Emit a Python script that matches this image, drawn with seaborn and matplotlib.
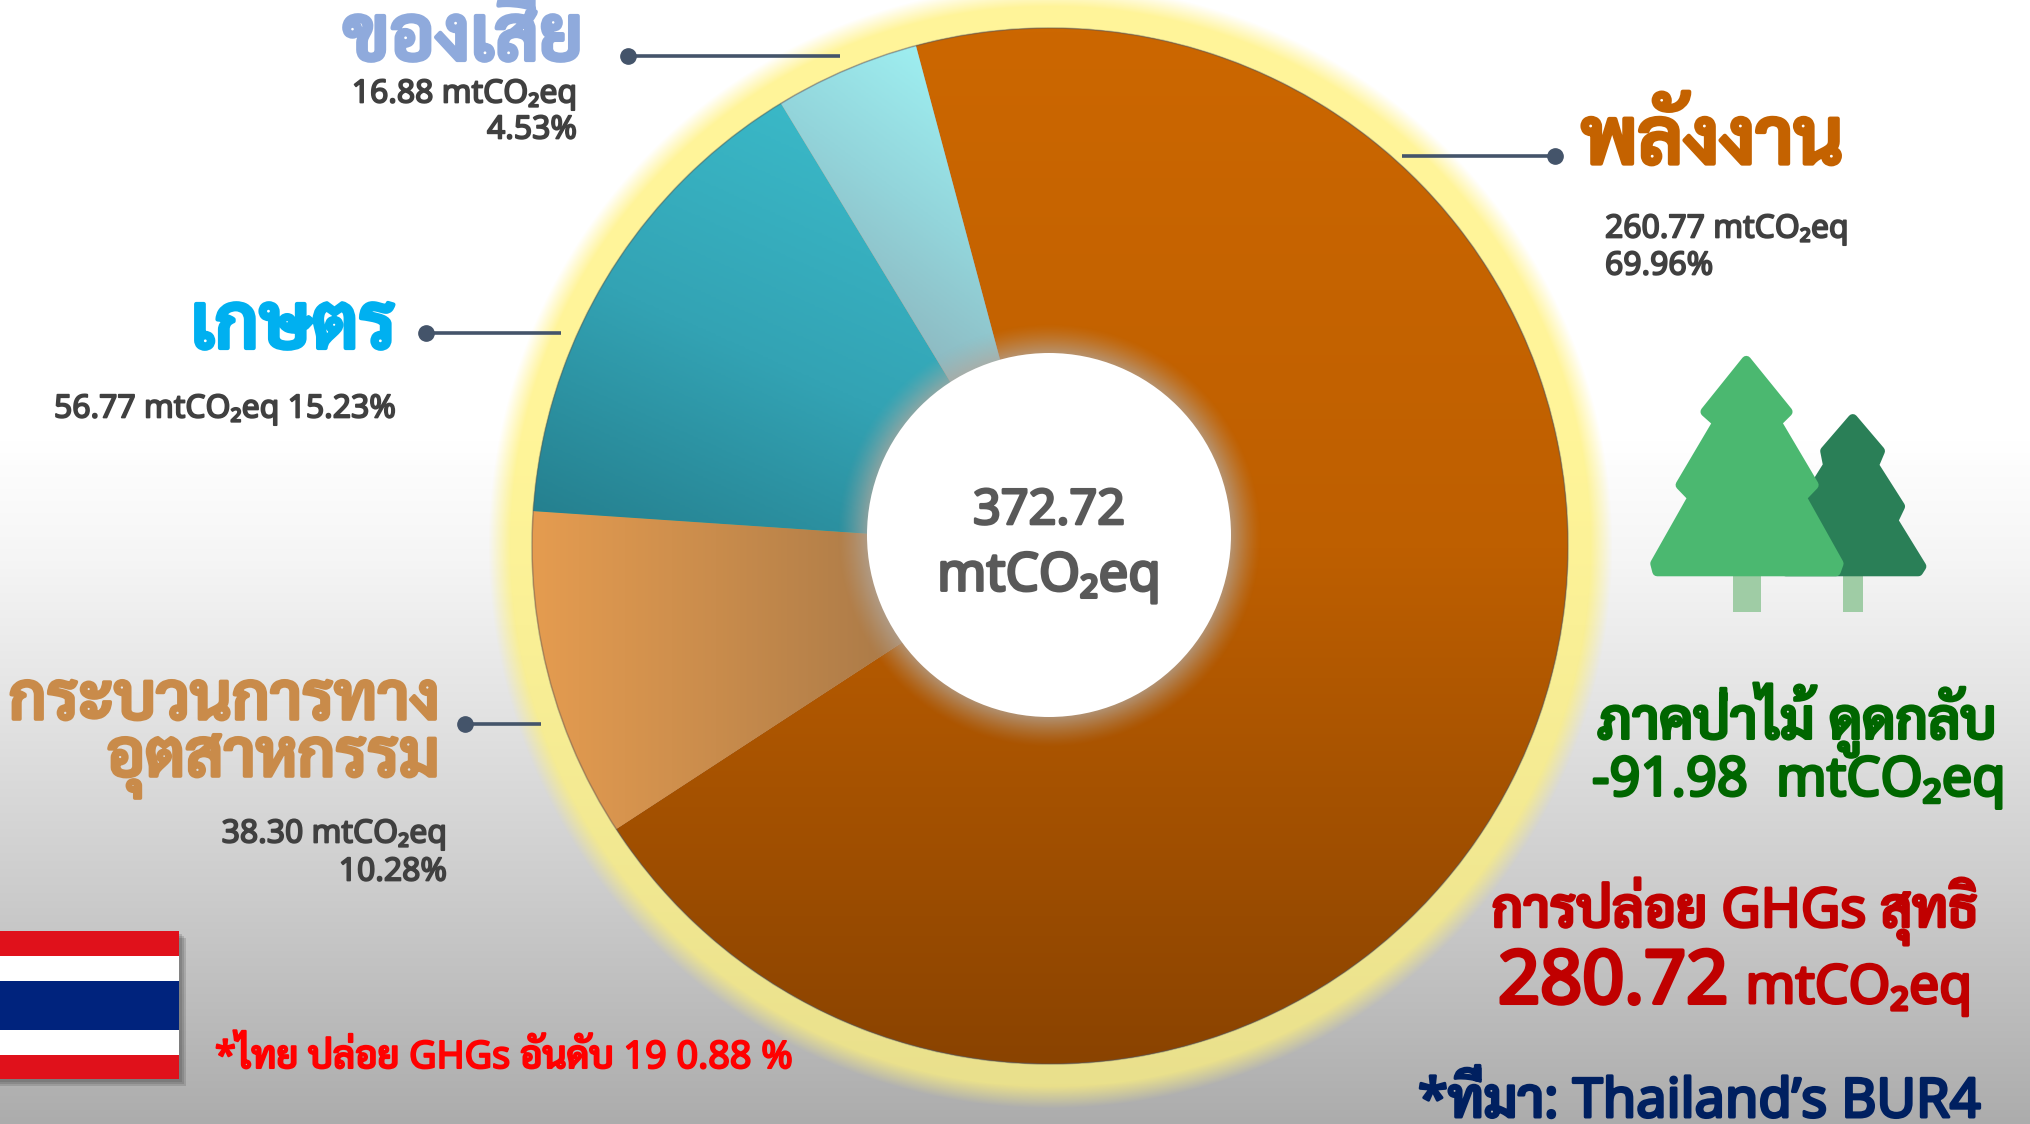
import numpy as np
import seaborn as sns
import matplotlib
matplotlib.use('Agg')
import matplotlib.pyplot as plt
import matplotlib.patheffects as pe
from matplotlib.patches import Circle, Polygon, Rectangle

W, H = 2030, 1124

# ข้อมูล
sectors = ['พลังงาน', 'กระบวนการทาง\nอุตสาหกรรม', 'เกษตร', 'ของเสีย']
values = [260.77, 38.30, 56.77, 16.88]
percents = [69.96, 10.28, 15.23, 4.53]
total = 372.72
forest = -91.98
net = 280.72
unit = 'mtCO₂eq'

sector_colors = ['#C46200', '#C98B4A', '#00B0F0', '#8FAADC']
gradients = [['#CC6700', '#BE5F00', '#8A4300'],
             ['#E59C50', '#C98C4C', '#AA7A48'],
             ['#3AB8C7', '#33A3B4', '#25808F'],
             ['#9EEEF0', '#93D5DB', '#8DB8C0']]
# ทิศของไล่สี (dx, dy ตามภาพ, y ลง)
gradient_dirs = [(0, 1), (1, 0), (-0.45, 1), (-0.75, 1)]

sns.set_theme(style='white')
plt.rcParams['font.family'] = ['Noto Sans', 'Sarabun', 'DejaVu Sans']
plt.rcParams['font.weight'] = 'medium'


def py(y):
    return H - y


fig = plt.figure(figsize=(W / 100, H / 100), dpi=100)
ax = fig.add_axes([0, 0, 1, 1])
ax.set_axis_off()

# พื้นหลัง
yy, xx = np.mgrid[0:H, 0:W]
gray = np.interp(yy, [0, 440, 560, 700, 900, 1124], [255, 255, 245, 228, 203, 172])
bg = np.dstack([gray, gray, gray]) / 255
ax.imshow(bg, extent=(0, W, 0, H), origin='upper', aspect='auto', zorder=0)

# แสงสีเหลืองรอบวง
cx, cy, R = 1050, 546, 518
r = np.hypot(xx - cx, yy - cy)
alpha = np.clip((R + 44 - r) / 22, 0, 1)
tone = (0.72 + 0.28 * gray / 255)
glow = np.dstack([1.0 * tone, 0.96 * tone, 0.60 * tone, alpha])
ax.imshow(glow, extent=(0, W, 0, H), origin='upper', aspect='auto', zorder=1)

# วงกลม
wedges, _ = ax.pie(values, center=(cx, py(cy)), radius=R, startangle=90 + 15,
                   counterclock=False, frame=True,
                   wedgeprops={'linewidth': 0, 'zorder': 2})
for wedge, colors, (dx, dy) in zip(wedges, gradients, gradient_dirs):
    ramp = np.array(sns.blend_palette(colors, 256))
    # ช่วงของไล่สีตามขอบเขตของแต่ละชิ้น
    th = np.radians(np.linspace(wedge.theta1, wedge.theta2, 60))
    px_ = np.r_[cx + R * np.cos(th), cx + 0.35 * R * np.cos(th)]
    py_ = np.r_[cy - R * np.sin(th), cy - 0.35 * R * np.sin(th)]
    proj = px_ * dx + py_ * dy
    gy, gx = np.mgrid[cy - R:cy + R:400j, cx - R:cx + R:400j]
    t = np.clip((gx * dx + gy * dy - proj.min()) / (proj.max() - proj.min()), 0, 1)
    img = ramp[(t * 255).astype(int)]
    im = ax.imshow(img, extent=(cx - R, cx + R, py(cy + R), py(cy - R)),
                   origin='upper', aspect='auto', zorder=2)
    im.set_clip_path(wedge)
ax.add_patch(Circle((cx, py(cy)), R, fc='none', ec='#555555', lw=1.2, alpha=0.4, zorder=3))

# รูตรงกลาง
hx, hy, hr = 1049, 535, 182
rh = np.hypot(xx - hx, yy - hy)
soft = np.clip((hr + 30 - rh) / 30, 0, 1) ** 1.3 * 0.7
shade = np.dstack([np.full(rh.shape, 0.70), np.full(rh.shape, 0.66),
                   np.full(rh.shape, 0.62), soft])
ax.imshow(shade, extent=(0, W, 0, H), origin='upper', aspect='auto', zorder=3)
ax.add_patch(Circle((hx, py(hy)), hr, fc='white', ec='none', zorder=4))
ax.text(hx, py(511), f'{total:.2f}', ha='center', va='center', fontsize=35, color='#595959', zorder=5)
ax.text(hx, py(577), unit, ha='center', va='center', fontsize=38, color='#595959', zorder=5)

# เส้นชี้
leaders = [((1555, 156), (1402, 156)),
           ((628, 56), (840, 56)),
           ((426, 333), (561, 333)),
           ((465, 724), (541, 724))]
for (x0, y0), (x1, y1) in leaders:
    ax.plot([x0, x1], [py(y0), py(y1)], color='#44546A', lw=2.6, zorder=6, solid_capstyle='butt')
    ax.plot([x0], [py(y0)], 'o', color='#44546A', ms=11, zorder=6)

# ชื่อสาขา
ax.text(1581, py(143), sectors[0], ha='left', va='center', fontsize=56, color=sector_colors[0])
ax.text(440, py(702), 'กระบวนการทาง', ha='right', va='center', fontsize=47, color=sector_colors[1])
ax.text(440, py(765), 'อุตสาหกรรม', ha='right', va='center', fontsize=47, color=sector_colors[1])
ax.text(396, py(328), sectors[2], ha='right', va='center', fontsize=55, color=sector_colors[2])
ax.text(583, py(40), sectors[3], ha='right', va='center', fontsize=55, color=sector_colors[3])

# ค่าของแต่ละสาขา
small = dict(fontsize=23, color='#404040', va='center')
ax.text(1605, py(229), f'{values[0]:.2f} {unit}', ha='left', **small)
ax.text(1605, py(266), f'{percents[0]:.2f}%', ha='left', **small)
ax.text(447, py(834), f'{values[1]:.2f} {unit}', ha='right', **small)
ax.text(447, py(872), f'{percents[1]:.2f}%', ha='right', **small)
ax.text(54, py(409), f'{values[2]:.2f} {unit} {percents[2]:.2f}%', ha='left', **small)
ax.text(577, py(94), f'{values[3]:.2f} {unit}', ha='right', **small)
ax.text(577, py(130), f'{percents[3]:.2f}%', ha='right', **small)


# ต้นไม้
def tree_pts(pts):
    return [(1400 + x / 2.489, py(60 + y / 2.8)) for x, y in pts]


small_tree = [(1127, 1005), (1195, 1095), (1180, 1135), (1245, 1250), (1228, 1290), (1298, 1418),
              (1290, 1432), (960, 1432), (1040, 1180), (1065, 1135), (1058, 1095)]
big_tree = [(862, 842), (965, 985), (938, 1015), (1030, 1190), (1000, 1225), (1092, 1410),
            (1085, 1432), (640, 1432), (635, 1410), (728, 1225), (698, 1190), (790, 1015), (760, 985)]
ax.add_patch(Rectangle((1400 + 1102 / 2.489, py(612)), 50 / 2.489, 38, fc='#9FCCA5', ec='none', zorder=5))
ax.add_patch(Rectangle((1400 + 828 / 2.489, py(612)), 70 / 2.489, 38, fc='#9FCCA5', ec='none', zorder=5))
ax.add_patch(Polygon(tree_pts(small_tree), closed=True, fc='#2A7F57', ec='#2A7F57', lw=7, joinstyle='round', zorder=5))
ax.add_patch(Polygon(tree_pts(big_tree), closed=True, fc='#4BB870', ec='#4BB870', lw=7, joinstyle='round', zorder=6))

# ข้อความด้านขวา
ax.text(1797, py(720), 'ภาคป่าไม้ ดูดกลับ', ha='center', va='center', fontsize=40, color='#006600')
ax.text(1799, py(781), f'{forest:.2f}  {unit}', ha='center', va='center', fontsize=39, color='#006600')
ax.text(1735, py(911), 'การปล่อย GHGs สุทธิ', ha='center', va='center', fontsize=39, color='#C00000')
ax.text(1498, py(1003), f'{net:.2f}', ha='left', va='baseline', fontsize=53, color='#C00000')
ax.text(1972, py(1003), unit, ha='right', va='baseline', fontsize=38.5, color='#C00000')
ax.text(1981, py(1117), "*ที่มา: Thailand’s BUR4", ha='right', va='baseline', fontsize=39, color='#002060')

# ธงชาติไทย
flag_y = [931, 956, 981, 1030, 1055, 1079]
flag_c = ['#E0111B', 'white', '#00237D', 'white', '#E0111B']
for grow in [7, 5, 3]:
    ax.add_patch(Rectangle((0, py(1079 + grow)), 179 + grow, 148, fc='#444444', ec='none', alpha=0.2, zorder=5))
for y0, y1, c in zip(flag_y[:-1], flag_y[1:], flag_c):
    ax.add_patch(Rectangle((0, py(y1)), 179, y1 - y0, fc=c, ec='none', zorder=6))
ax.text(215, py(1058), '*ไทย ปล่อย GHGs อันดับ 19 0.88 %', ha='left', va='center', fontsize=27.2, color='#FF0000', zorder=6)

# Noto Sans ไม่มีตัวหนาจริง เลยเพิ่มเส้นขอบให้หนาขึ้น
for t in ax.texts:
    t.set_path_effects([pe.withStroke(linewidth=t.get_fontsize() * 0.055, foreground=t.get_color())])

ax.set_xlim(0, W)
ax.set_ylim(0, H)
ax.set_aspect('auto')
fig.savefig('out.png', dpi=100)
